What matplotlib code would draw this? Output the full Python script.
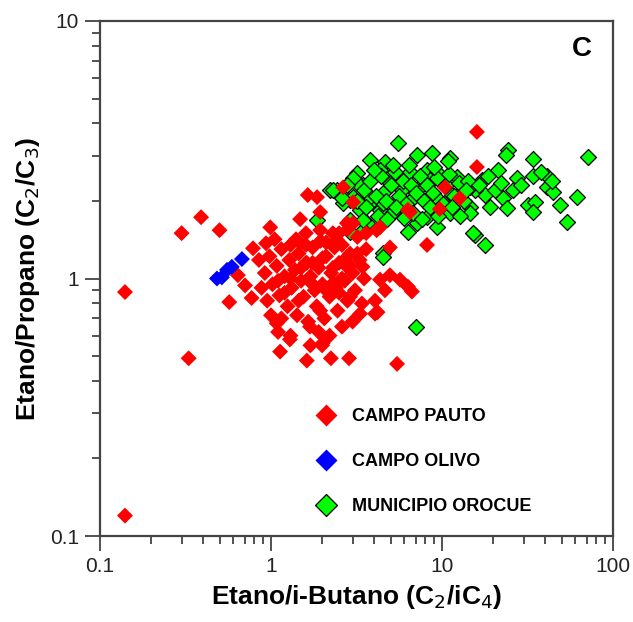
import numpy as np
import matplotlib
matplotlib.use('Agg')
import matplotlib.pyplot as plt
from matplotlib.lines import Line2D

plt.rcParams['font.family'] = ['Liberation Sans', 'DejaVu Sans']

# CAMPO PAUTO (red)
pauto_x = [0.14, 0.14, 0.33, 0.30, 0.39, 0.50, 0.57, 0.64, 0.785, 0.935, 0.99, 1.48, 1.64,
           0.705, 0.77, 1.08, 1.13, 1.29, 1.62, 2.24, 2.86, 5.46, 1.99, 3.32, 4.06, 4.34,
           4.96, 5.68, 6.32, 6.67, 4.64, 4.06, 4.2,
           2.64, 3.02, 6.32, 9.7, 10.4, 12.7, 16.0, 16.0, 8.17, 4.34, 2.78, 1.86, 1.94,
           1.94, 2.43, 3.02, 4.15, 4.96, 6.5, 1.48, 1.62, 2.78, 3.43, 2.31, 2.9, 1.94,
           1.69, 2.0,
           0.85, 0.92, 0.98, 1.02, 1.08, 1.12, 1.15, 1.2, 1.25, 1.28, 1.32, 1.38, 1.42,
           1.45, 1.5, 1.55, 1.6, 1.65, 1.7, 1.75, 1.8, 1.85, 1.9, 1.95, 2.0, 2.05, 2.1,
           2.2, 2.25, 2.3, 2.4, 2.45, 2.5, 2.6, 2.7, 2.8, 2.9, 3.0, 3.1, 3.2, 3.3, 3.5,
           3.6, 1.0, 1.1, 1.3, 1.4, 1.6, 1.9, 2.2, 2.6, 1.05, 0.95, 0.88, 1.15, 2.35,
           2.75, 3.4, 3.0, 1.7,
           1.1, 1.3, 1.5, 1.75, 2.0, 2.3, 2.6, 1.2, 1.45, 1.75, 2.1, 2.5, 2.9, 3.2,
           1.3, 1.6, 2.1, 2.5, 2.8, 3.6]
pauto_y = [0.886, 0.12, 0.49, 1.50, 1.73, 1.54, 0.81, 1.03, 1.31, 1.37, 1.58, 1.70, 2.11,
           0.94, 0.84, 0.67, 0.52, 0.58, 0.48, 0.49, 0.49, 0.466, 0.55, 0.73, 0.73, 0.99,
           1.03, 0.99, 0.93, 0.89, 0.90, 0.82, 0.74,
           2.26, 1.98, 1.85, 1.86, 2.26, 2.05, 2.71, 3.71, 1.35, 1.58, 1.64, 2.07, 1.81,
           1.54, 1.41, 1.64, 1.54, 1.32, 1.81, 1.37, 1.15, 1.21, 1.11, 0.96, 0.85, 0.75,
           0.65, 0.56,
           1.18, 1.05, 1.22, 0.95, 1.12, 0.86, 1.30, 1.02, 0.78, 1.18, 0.92, 1.08, 0.72,
           1.25, 0.98, 0.85, 1.15, 0.68, 1.02, 1.32, 0.90, 0.78, 1.10, 1.40, 0.95, 0.70, 1.22,
           0.85, 1.05, 1.50, 0.92, 0.75, 1.15, 1.35, 0.98, 0.82, 1.25, 1.05, 0.90, 1.45, 1.18, 1.0,
           1.30, 0.72, 0.62, 0.60, 1.42, 1.50, 0.62, 0.60, 0.65, 1.42, 0.82, 0.92, 0.70, 1.32,
           1.12, 0.80, 0.68, 0.55,
           0.98, 1.0, 1.1, 1.15, 1.2, 1.1, 1.0, 0.88, 0.82, 0.95, 0.9, 0.88, 1.12, 1.25,
           1.35, 1.35, 1.38, 1.5, 1.55, 1.5]

# CAMPO OLIVO (blue)
olivo_x = [0.483, 0.516, 0.553, 0.59, 0.676]
olivo_y = [1.0, 1.01, 1.08, 1.11, 1.19]

# MUNICIPIO OROCUE (green)
orocue_x = [24.3, 23.6, 34.0, 71.5, 21.2, 27.4, 34.0, 41.1, 41.1, 44.6, 61.5, 49.0, 31.8,
            34.9, 34.0, 53.8, 17.1, 17.8, 22.8, 24.0, 19.1, 15.6, 14.6, 15.6, 17.8,
            5.53, 3.79, 4.65, 7.14, 8.74, 11.1, 3.18, 4.34, 6.5, 8.17, 9.3, 12.3, 2.43,
            3.43, 4.96, 5.83, 7.4, 8.5, 14.6, 2.9, 3.96, 4.5, 5.46, 6.8, 8.5, 11.4, 13.2,
            3.3, 4.34, 5.15, 8.17, 11.1, 14.6, 2.9, 3.62, 6.3, 9.3, 15.1, 4.5, 3.43, 7.14,
            6.2, 2.2, 7.05, 2.30, 2.64, 3.18, 3.02, 3.79, 4.5, 3.43, 1.86, 4.5, 2.9,
            3.5, 3.8, 4.1, 4.4, 4.7, 5.0, 5.3, 5.6, 5.9, 6.2, 6.6, 7.0, 7.4, 7.8, 8.2, 8.8,
            9.3, 9.8, 10.5, 11.0, 11.8, 12.5, 13.5, 14.2, 3.2, 3.6, 4.2, 4.8, 5.4, 6.0, 6.8,
            7.6, 8.5, 9.5, 10.2, 11.5, 12.8, 13.8, 16.5, 18.5, 20.5, 22.0, 26.0, 29.0, 38.0,
            44.0, 4.0, 6.4, 9.0, 10.8, 5.2, 3.0, 2.6, 2.8]
orocue_y = [3.16, 3.02, 2.91, 2.97, 2.64, 2.45, 2.49, 2.49, 2.26, 2.16, 2.07, 1.93, 1.93,
            1.98, 1.81, 1.66, 2.41, 2.11, 2.06, 1.88, 1.89, 2.20, 1.89, 1.47, 1.35,
            3.36, 2.89, 2.84, 3.02, 3.07, 2.95, 2.56, 2.63, 2.60, 2.63, 2.60, 2.47, 2.20,
            2.31, 2.35, 2.20, 2.26, 2.41, 2.26, 2.02, 2.02, 2.15, 1.98, 2.05, 2.02, 2.11, 2.20,
            1.85, 1.85, 1.81, 1.73, 1.80, 1.80, 1.69, 1.64, 1.52, 1.58, 1.50, 1.26, 1.54, 1.64,
            1.85, 2.2, 0.65, 2.20, 1.96, 2.35, 2.07, 2.07, 1.96, 1.69, 1.69, 1.21, 1.52,
            2.2, 2.4, 2.1, 2.5, 2.0, 2.3, 2.6, 2.1, 2.4, 1.95, 2.3, 2.15, 2.5, 2.0, 2.3, 2.15,
            2.45, 2.0, 2.3, 2.55, 2.1, 2.35, 2.0, 2.4, 2.0, 1.9, 1.75, 1.7, 1.9, 1.72, 1.8,
            1.7, 1.9, 1.75, 1.95, 1.9, 1.75, 2.2, 2.3, 2.5, 2.2, 2.35, 2.2, 2.3, 2.6,
            2.4, 2.65, 2.75, 2.7, 2.85, 2.75, 2.45, 2.05, 2.3]

x_ticks = [0.1, 1, 10, 100]
x_tick_labels = ['0.1', '1', '10', '100']
y_ticks = [0.1, 1, 10]
y_tick_labels = ['0.1', '1', '10']

fig = plt.figure(figsize=(6.33, 6.22), dpi=100)
ax = fig.add_axes([100 / 633, 1 - 536 / 622, 513 / 633, 515 / 622])

ms = 66
ax.scatter(orocue_x, orocue_y, marker='D', s=ms, c='#00ff00', edgecolors='black', linewidths=0.9, zorder=2)
ax.scatter(pauto_x, pauto_y, marker='D', s=ms, c='#ff0000', edgecolors='none', zorder=3)
ax.scatter(olivo_x, olivo_y, marker='D', s=ms, c='#0000ff', edgecolors='none', zorder=4)

ax.set_xscale('log')
ax.set_yscale('log')
ax.set_xlim(0.1, 100)
ax.set_ylim(0.1, 10)
ax.set_xticks(x_ticks)
ax.set_xticklabels(x_tick_labels)
ax.set_yticks(y_ticks)
ax.set_yticklabels(y_tick_labels)

ax.tick_params(which='major', direction='out', length=11, width=1.2, color='#333333',
               labelsize=15, labelcolor='#222222', pad=4)
ax.tick_params(which='minor', direction='out', length=5.5, width=1.2, color='#333333')
ax.tick_params(top=False, right=False, which='both')
for side in ['left', 'bottom', 'top', 'right']:
    ax.spines[side].set_color('#444444')
    ax.spines[side].set_linewidth(1.6)

ax.set_xlabel('Etano/i-Butano (C$_2$/iC$_4$)', fontsize=19, fontweight='bold', labelpad=5)
ax.set_ylabel('Etano/Propano (C$_2$/C$_3$)', fontsize=19, fontweight='bold', labelpad=6)
ax.text(0.94, 0.945, 'C', transform=ax.transAxes, fontsize=20, fontweight='bold',
        ha='center', va='center')

handles = [
    Line2D([], [], marker='D', linestyle='none', markersize=11, markerfacecolor='#ff0000', markeredgecolor='none'),
    Line2D([], [], marker='D', linestyle='none', markersize=11, markerfacecolor='#0000ff', markeredgecolor='none'),
    Line2D([], [], marker='D', linestyle='none', markersize=11, markerfacecolor='#00ff00', markeredgecolor='black', markeredgewidth=0.9),
]
labels = ['CAMPO PAUTO', 'CAMPO OLIVO', 'MUNICIPIO OROCUE']
ax.legend(handles, labels, loc='upper left', bbox_to_anchor=(0.408, 0.262), frameon=False,
          prop={'weight': 'bold', 'size': 13}, labelspacing=1.55, handletextpad=0.95,
          handlelength=1.0, borderaxespad=0)

fig.savefig('out.png', dpi=100)
